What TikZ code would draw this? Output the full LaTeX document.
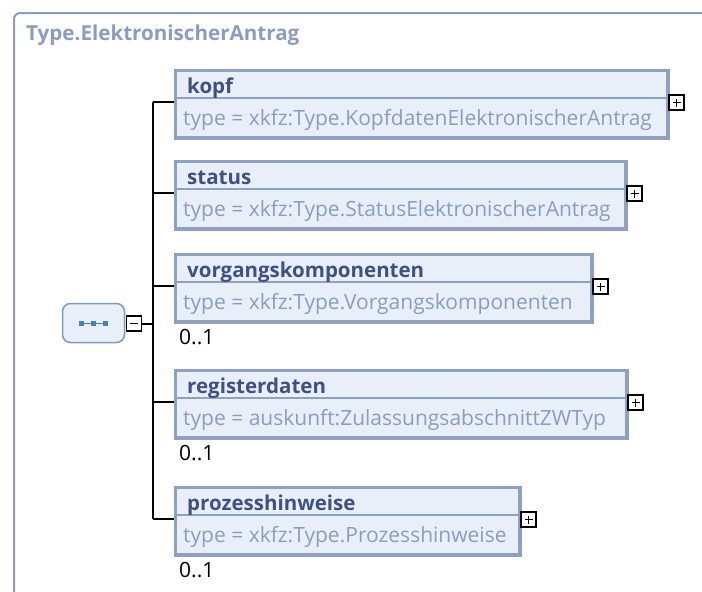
\documentclass[tikz,border=0pt]{standalone}
\usepackage{fontspec}
\setmainfont{Open Sans}
\usetikzlibrary{positioning, calc}
\definecolor{framegray}{RGB}{138, 156, 194}
\definecolor{boxfill}{RGB}{233, 239, 249}
\definecolor{boxline}{RGB}{143, 160, 194}
\definecolor{titleblue}{RGB}{64, 80, 133}
\definecolor{typegray}{RGB}{138, 156, 192}
\definecolor{seqline}{RGB}{122, 157, 196}
\definecolor{seqdot}{RGB}{70, 130, 180}

\begin{document}
\begin{tikzpicture}[x=1pt, y=-1pt,
  elbox/.style={draw=boxline, fill=boxfill, line width=3.5pt, anchor=north west, minimum height=67.5pt, inner sep=0pt},
  divline/.style={draw=boxline, line width=2pt},
  eltitle/.style={anchor=base west, inner sep=0pt, text=titleblue, font=\fontsize{20.5}{24}\selectfont\bfseries},
  eltype/.style={anchor=base west, inner sep=0pt, text=typegray, font=\fontsize{21}{25}\selectfont},
  occurs/.style={anchor=base west, inner sep=0pt, font=\fontsize{21}{25}\selectfont},
  togglebox/.style={draw, fill=white, line width=1.5pt, minimum size=15pt, inner sep=0pt},
  conn/.style={line width=2pt}]
  \useasboundingbox (0,0) rectangle (702,592);
  \clip (0,0) rectangle (702,592);

  % outer complex type frame
  \draw[framegray, line width=2pt, rounded corners=6pt] (14,13) rectangle (740,640);
  \node[anchor=base west, inner sep=0pt, text=framegray, font=\fontsize{20.6}{24}\selectfont\bfseries] (ctype) at (26,40.5) {Type.ElektronischerAntrag};

  % sequence compositor
  \node[draw=seqline, fill=boxfill, line width=1.5pt, rounded corners=8pt, minimum width=62pt, minimum height=39pt] (seq) at (93.5,323) {};
  \draw[seqdot, line width=0.8pt] ([xshift=-12pt]seq.center) -- ([xshift=12pt]seq.center);
  \foreach \dx in {-12,0,12}
    \fill[seqdot] ([xshift=\dx pt]seq.center) +(-2.5,-2.5) rectangle +(2.5,2.5);
  \node[togglebox] (seq-minus) at (134,323.5) {};
  \draw[line width=1.5pt] ([xshift=-4pt]seq-minus.center) -- ([xshift=4pt]seq-minus.center);

  % child elements
  \foreach \nm/\T/\R/\typ in {kopf/67/668/xkfz:Type.KopfdatenElektronischerAntrag,
      status/158/626/xkfz:Type.StatusElektronischerAntrag,
      vorgangskomponenten/251/592/xkfz:Type.Vorgangskomponenten,
      registerdaten/367/627/auskunft:ZulassungsabschnittZWTyp,
      prozesshinweise/484/520/xkfz:Type.Prozesshinweise} {
    \node[elbox, minimum width={\R pt-175.5pt}] (\nm) at (173.75,\T+1.75) {};
    \draw[divline] ([yshift=-29.25pt]\nm.north west) -- ([yshift=-29.25pt]\nm.north east);
    \node[eltitle] (\nm-title) at (187,\T+26) {\nm};
    \node[eltype] (\nm-type) at (183,\T+58.5) {type = \typ};
    \node[togglebox] (\nm-plus) at (\R+8.5,\T+35.5) {};
    \draw[line width=1.5pt] ([xshift=-4pt]\nm-plus.center) -- ([xshift=4pt]\nm-plus.center)
      ([yshift=-4pt]\nm-plus.center) -- ([yshift=4pt]\nm-plus.center);
    \coordinate (spine-\nm) at (153,\T+35);
    \draw[conn] (spine-\nm) -- (\nm.west |- spine-\nm);
  }
  \foreach \nm/\T in {vorgangskomponenten/251, registerdaten/367, prozesshinweise/484}
    \node[occurs] (\nm-occ) at (179,\T+93) {0..1};

  \draw[conn] (spine-kopf) -- (spine-prozesshinweise);
  \draw[conn] (seq-minus.east) -- (seq-minus.east -| spine-kopf);
\end{tikzpicture}
\end{document}
